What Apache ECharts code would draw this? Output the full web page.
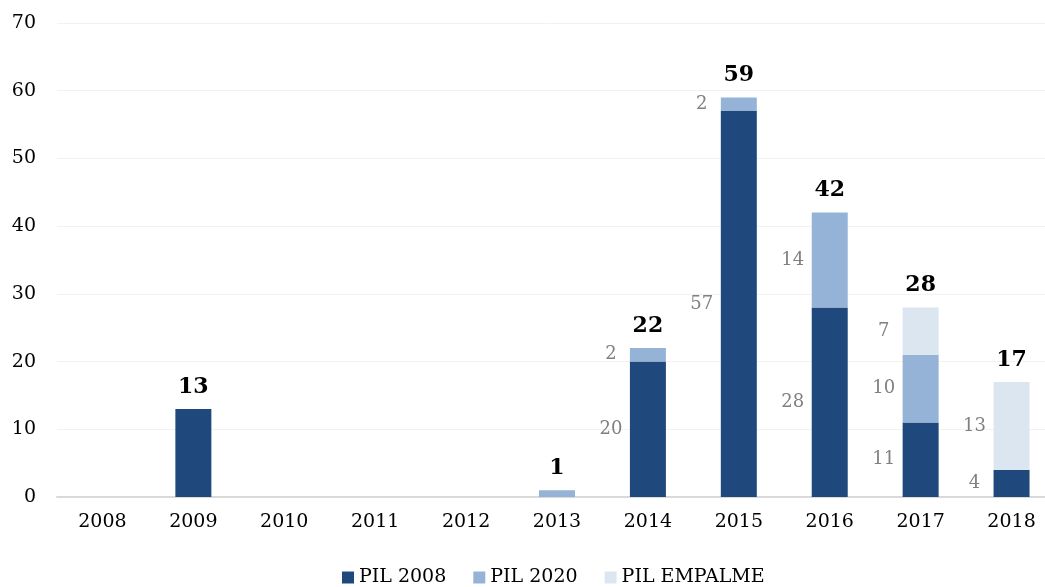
<!DOCTYPE html>
<html>
<head>
<meta charset="utf-8">
<script src="https://cdn.jsdelivr.net/npm/echarts@6/dist/echarts.min.js"></script>
<style>
html, body { margin: 0; padding: 0; background: #fff; }
#chart { width: 1045px; height: 587px; }
</style>
</head>
<body>
<div id="chart"></div>
<script>
const years = ['2008', '2009', '2010', '2011', '2012', '2013', '2014', '2015', '2016', '2017', '2018']
const pil2008 = [0, 13, 0, 0, 0, 0, 20, 57, 28, 11, 4]
const pil2020 = [0, 0, 0, 0, 0, 1, 2, 2, 14, 10, 0]
const pilEmpalme = [0, 0, 0, 0, 0, 0, 0, 0, 0, 7, 13]
const yTicks = [0, 10, 20, 30, 40, 50, 60, 70]

const totals = years.map((y, i) => pil2008[i] + pil2020[i] + pilEmpalme[i])
// segment labels only when a bar has more than one piece
const multi = years.map((y, i) => [pil2008[i], pil2020[i], pilEmpalme[i]].filter(v => v > 0).length > 1)

const FONT = 'DejaVu Serif'

function segData (arr) {
  return arr.map((v, i) => ({
    value: v,
    label: { show: multi[i] && v > 0 }
  }))
}

const segLabel = {
  position: 'left',
  distance: 19,
  align: 'center',
  color: '#808080',
  fontFamily: FONT,
  fontSize: 18
}

const chart = echarts.init(document.getElementById('chart'))
chart.setOption({
  animation: false,
  grid: { left: 57, width: 1000, top: 23, bottom: 90, outerBoundsMode: 'none', containLabel: false },
  legend: {
    data: ['PIL 2008', 'PIL 2020', 'PIL EMPALME'],
    bottom: -5,
    left: 337,
    itemWidth: 12,
    itemHeight: 12,
    itemGap: 27,
    icon: 'rect',
    textStyle: { fontFamily: FONT, fontSize: 19, color: '#000' }
  },
  xAxis: {
    type: 'category',
    data: years,
    axisTick: { show: false },
    axisLine: { lineStyle: { color: '#d9d9d9', width: 2 } },
    axisLabel: { fontFamily: FONT, fontSize: 19, color: '#000', margin: 16 }
  },
  yAxis: {
    type: 'value',
    min: yTicks[0],
    max: yTicks[yTicks.length - 1],
    interval: 10,
    axisLine: { show: false },
    axisTick: { show: false },
    splitLine: { lineStyle: { color: '#f2f2f2' } },
    axisLabel: { fontFamily: FONT, fontSize: 19, color: '#000', margin: 21 }
  },
  series: [
    {
      name: 'PIL 2008',
      type: 'bar',
      stack: 'total',
      barWidth: 36,
      itemStyle: { color: '#1f497d' },
      label: segLabel,
      data: segData(pil2008)
    },
    {
      name: 'PIL 2020',
      type: 'bar',
      stack: 'total',
      itemStyle: { color: '#95b3d7' },
      label: segLabel,
      data: segData(pil2020)
    },
    {
      name: 'PIL EMPALME',
      type: 'bar',
      stack: 'total',
      itemStyle: { color: '#dce6f1' },
      label: segLabel,
      data: segData(pilEmpalme)
    },
    {
      name: 'Total',
      type: 'bar',
      stack: 'total',
      silent: true,
      itemStyle: { color: 'transparent' },
      label: {
        show: true,
        position: 'top',
        distance: 11,
        fontFamily: FONT,
        fontSize: 22,
        fontWeight: 'bold',
        color: '#000',
        formatter: p => totals[p.dataIndex] > 0 ? String(totals[p.dataIndex]) : ''
      },
      data: years.map(() => 0)
    }
  ]
})
</script>
</body>
</html>
